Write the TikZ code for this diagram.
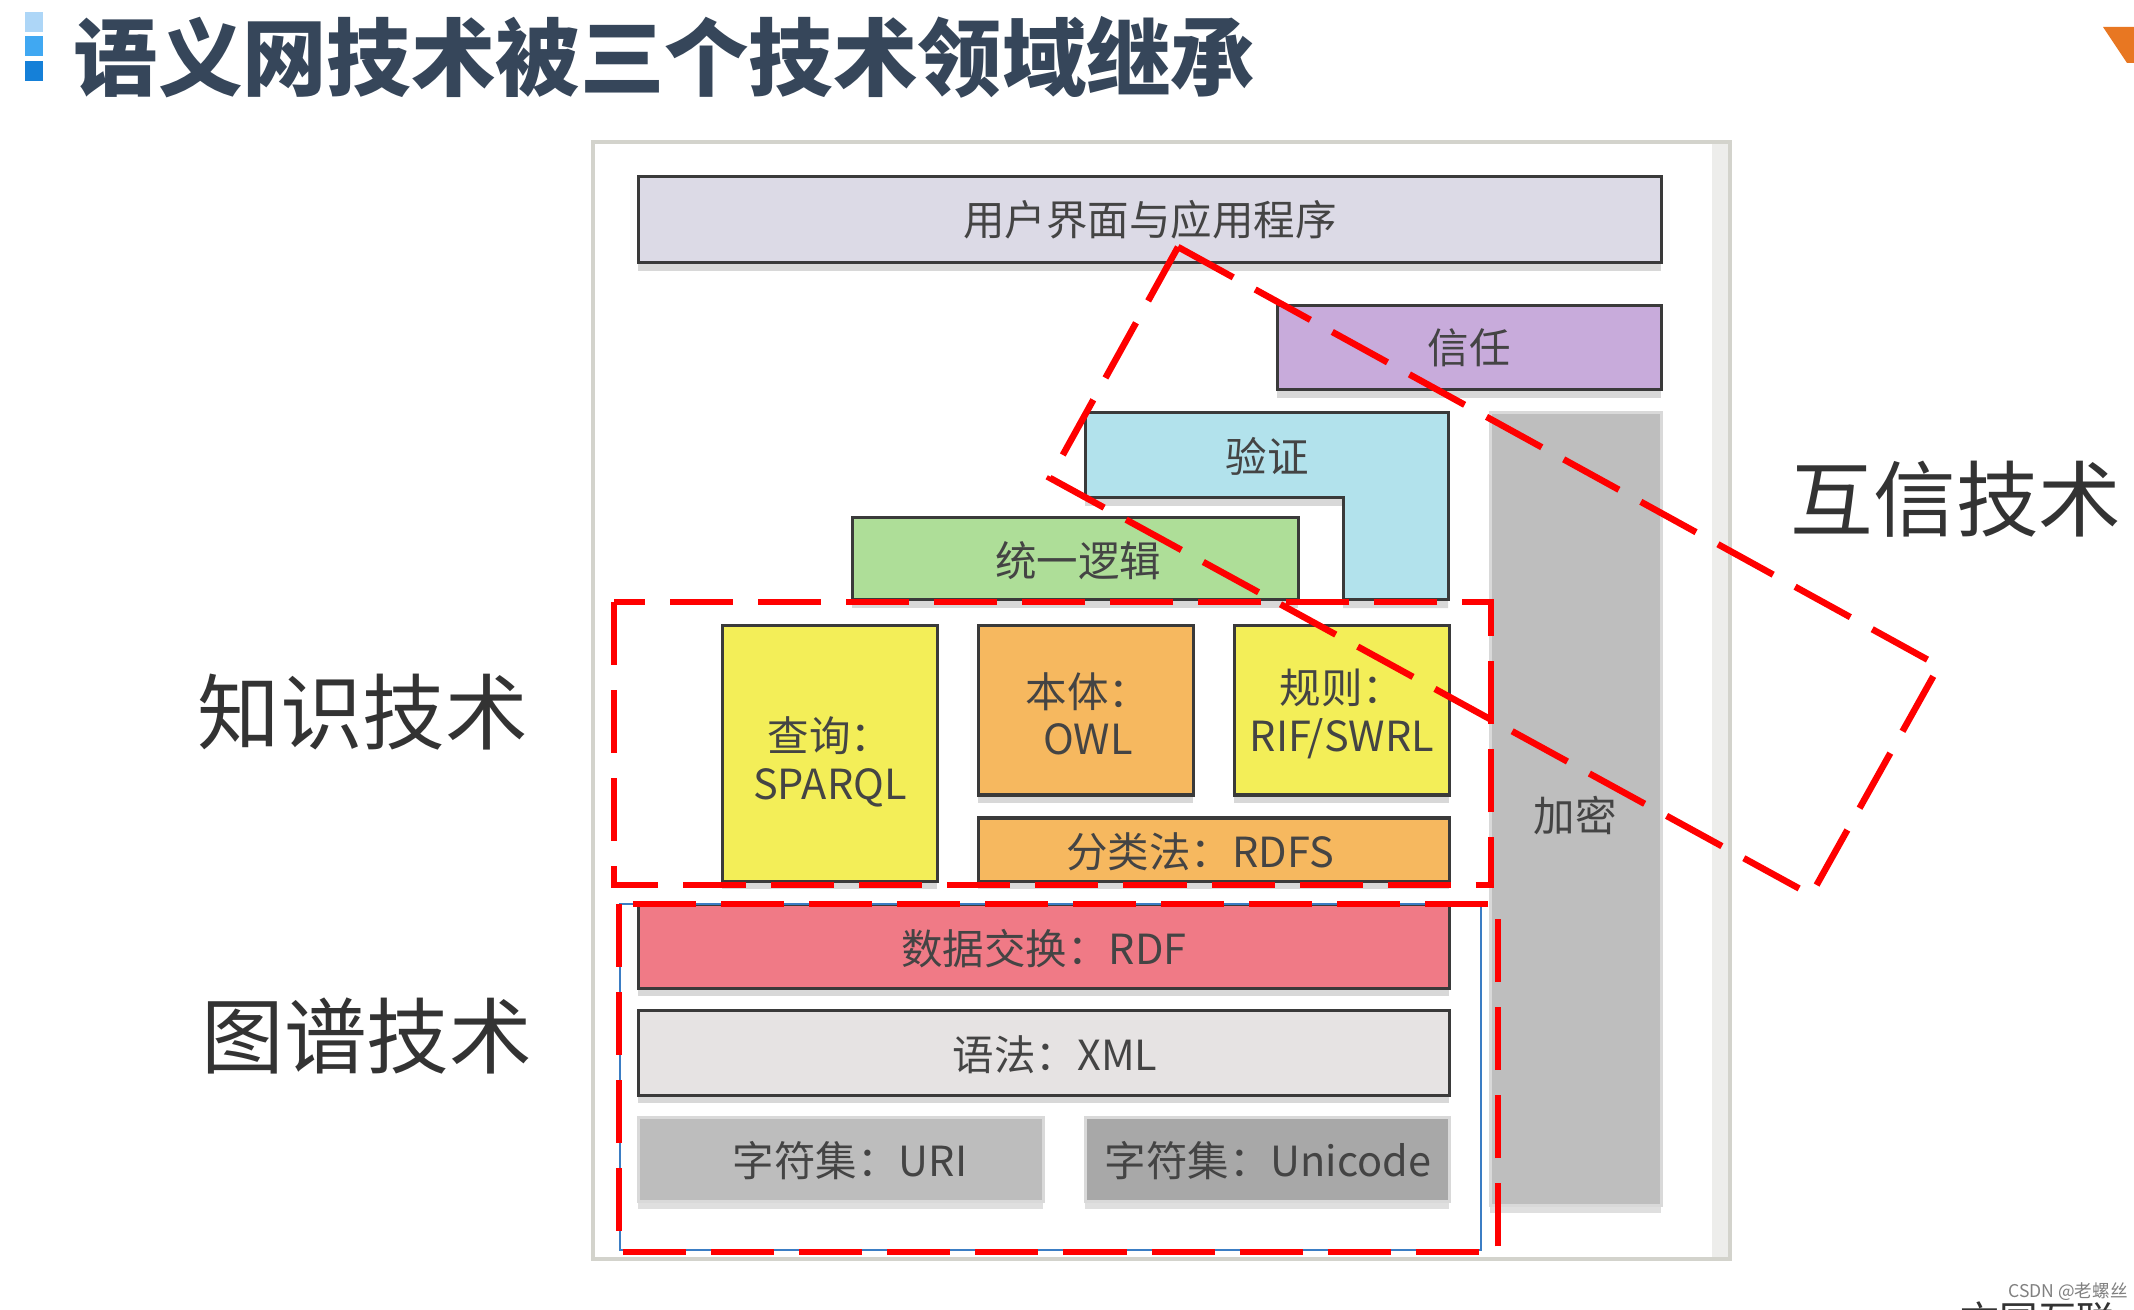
\documentclass[tikz,border=0pt]{standalone}
\usepackage{fontspec}
\setmainfont{Noto Sans CJK SC}
\usetikzlibrary{shadows}

\definecolor{titulo}{HTML}{36465A}
\definecolor{etq}{HTML}{333333}
\definecolor{letra}{HTML}{444444}
\definecolor{borde}{HTML}{3A3A3A}
\definecolor{marco}{HTML}{D3D3CC}
\definecolor{cuadro1}{HTML}{ADD6F7}
\definecolor{cuadro2}{HTML}{40A8F2}
\definecolor{cuadro3}{HTML}{1580D8}
\definecolor{appc}{HTML}{DCDAE6}
\definecolor{confianza}{HTML}{C8ABDB}
\definecolor{verif}{HTML}{B2E2EC}
\definecolor{logica}{HTML}{AEDE98}
\definecolor{cifrado}{HTML}{BEBEBE}
\definecolor{amarillo}{HTML}{F3EE58}
\definecolor{naranjac}{HTML}{F6B85F}
\definecolor{rdfc}{HTML}{F07A86}
\definecolor{xmlc}{HTML}{E6E3E3}
\definecolor{uric}{HTML}{BDBDBD}
\definecolor{unic}{HTML}{A8A8A8}
\definecolor{azul}{HTML}{3B7DC4}
\definecolor{naranja}{HTML}{E87722}

\begin{document}
\begin{tikzpicture}[x=0.01cm, y=-0.01cm,
	capa/.style={draw=borde, line width=0.03cm, drop shadow={shadow xshift=0cm, shadow yshift=-0.08cm, opacity=0.3}},
	capagris/.style={draw=white!70!gray, line width=0.03cm, drop shadow={shadow xshift=0cm, shadow yshift=-0.08cm, opacity=0.25}},
	texto/.style={inner sep=0pt, text=letra, align=center, font=\fontsize{11.8}{13.5}\selectfont},
	etiqueta/.style={inner sep=0pt, anchor=west, text=etq, font=\fontsize{23.5}{26}\selectfont},
	rojo/.style={draw=red, line width=0.065cm, dash pattern=on 0.63cm off 0.25cm}]
	\useasboundingbox (0,0) rectangle (2134,1310);
	\fill[white] (0,0) rectangle (2134,1310);

	% Titulo
		\fill[cuadro1] (25,12) rectangle (43,32);
		\fill[cuadro2] (25,36) rectangle (43,56);
		\fill[cuadro3] (25,61) rectangle (43,81);
		\node[inner sep=0pt, anchor=west, text=titulo, font=\fontsize{24}{26}\selectfont\bfseries] (titulo) at (73,57) {语义网技术被三个技术领域继承};
		\fill[naranja] (2103,27) -- (2134,27) -- (2134,63) -- (2127,63) -- cycle;

	% Marco de la figura
		\draw[marco, line width=0.04cm] (593,142) rectangle (1730,1259);
		\fill[marco!40] (1712,144) rectangle (1728,1257);

	% Capas superiores
		\draw[capa, fill=appc] (638,177) rectangle (1661,263);
		\node[texto] (app) at (1150,220) {用户界面与应用程序};
		\draw[capa, fill=confianza] (1277,306) rectangle (1661,390);
		\node[texto] (trust) at (1469,348) {信任};
		\draw[capa, fill=verif] (1085,413) -- (1448,413) -- (1448,600) -- (1343,600) -- (1343,498) -- (1085,498) -- cycle;
		\node[texto] (proof) at (1267,456) {验证};
		\draw[capa, fill=logica] (852,518) rectangle (1298,600);
		\node[texto] (logic) at (1078,561) {统一逻辑};
		\draw[capagris, fill=cifrado] (1490,413) rectangle (1661,1205);
		\node[texto] (crypto) at (1575,816) {加密};

	% Capas de conocimiento
		\draw[capa, fill=amarillo] (722,626) rectangle (937,881);
		\node[texto] (sparql) at (830,762) {查询：\\SPARQL};
		\draw[capa, fill=naranjac] (978,626) rectangle (1193,795);
		\node[texto] (owl) at (1088,714) {本体：\\OWL};
		\draw[capa, fill=amarillo] (1234,626) rectangle (1449,795);
		\node[texto] (rif) at (1342,714) {规则：\\RIF/SWRL};
		\draw[capa, fill=naranjac] (978,818) rectangle (1449,881);
		\node[texto] (rdfs) at (1200,852) {分类法：RDFS};

	% Capas de grafo
		\draw[capa, fill=rdfc] (638,904) rectangle (1449,988);
		\node[texto] (rdf) at (1044,949) {数据交换：RDF};
		\draw[capa, fill=xmlc] (638,1010) rectangle (1449,1095);
		\node[texto] (xml) at (1055,1055) {语法：XML};
		\draw[capagris, fill=uric] (638,1117) rectangle (1043,1201);
		\node[texto] (uri) at (850,1161) {字符集：URI};
		\draw[capagris, fill=unic] (1085,1117) rectangle (1449,1201);
		\node[texto] (unicode) at (1268,1161) {字符集：Unicode};

	% Recuadros
		\draw[azul, line width=0.02cm] (620,904) rectangle (1481,1250);
		\draw[rojo] (614,602) rectangle (1491,885);
		\draw[rojo] (619,904) rectangle (1498,1252);
		\draw[rojo] (1178,247) -- (1939,666) -- (1811,895) -- (1050,478) -- cycle;

	% Etiquetas
		\node[etiqueta] (saber) at (197,712) {知识技术};
		\node[etiqueta] (grafo) at (201,1036) {图谱技术};
		\node[etiqueta] (mutua) at (1790,499) {互信技术};

	% Marca de agua
		\node[inner sep=0pt, text=gray, font=\fontsize{5}{5}\selectfont] (csdn) at (2068,1292) {CSDN @老螺丝};
		\node[inner sep=0pt, anchor=north west, text=etq, font=\fontsize{11}{12}\selectfont] (pie) at (1960,1301) {文国互联};
\end{tikzpicture}
\end{document}
